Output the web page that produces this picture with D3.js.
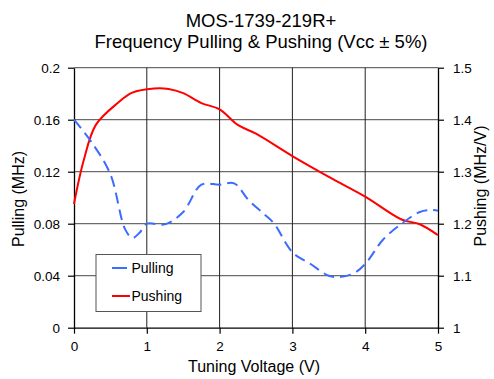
<!DOCTYPE html>
<html><head><meta charset="utf-8">
<script src="https://cdn.jsdelivr.net/npm/d3@7"></script>
<style>
body{margin:0;background:#fff;}
svg{display:block;font-family:"Liberation Sans",Arial,sans-serif;}
</style></head>
<body><svg id="c" width="494" height="379"></svg>
<script>
const titleLines = ["MOS-1739-219R+", "Frequency Pulling & Pushing (Vcc \u00b1 5%)"];
const xLabel = "Tuning Voltage (V)";
const yLeftLabel = "Pulling (MHz)";
const yRightLabel = "Pushing (MHz/V)";
const xTicks = [0,1,2,3,4,5];
const yLeftTicks = [0,0.04,0.08,0.12,0.16,0.2];
const yRightTicks = [1,1.1,1.2,1.3,1.4,1.5];

const pullingV   = [0,0.25,0.5,0.7,0.8,0.9,1.0,1.25,1.5,1.75,2.0,2.2,2.4,2.6,2.75,3.0,3.25,3.5,3.65,3.85,4.0,4.25,4.5,4.75,4.9,5.0];
const pullingVal = [0.160,0.142,0.118,0.076,0.069,0.073,0.080,0.0795,0.089,0.110,0.110,0.111,0.098,0.088,0.080,0.058,0.049,0.040,0.039,0.042,0.049,0.068,0.080,0.089,0.0905,0.090];

const pushingV   = [0,0.13,0.3,0.6,0.8,1.1,1.3,1.5,1.75,2.0,2.25,2.5,3.0,3.5,4.0,4.5,4.75,5.0];
const pushingVal = [1.238,1.32,1.39,1.432,1.452,1.46,1.459,1.451,1.432,1.42,1.39,1.373,1.33,1.29,1.252,1.208,1.199,1.178];

const svg = d3.select("#c");
const L=74, R=438, T=67.7, B=327.7;
const x = d3.scaleLinear().domain([0,5]).range([L,R]);
const yL = d3.scaleLinear().domain([0,0.2]).range([B,T]);
const yR = d3.scaleLinear().domain([1,1.5]).range([B,T]);

// grid
svg.append("g").selectAll("line").data(yLeftTicks.slice(1)).join("line")
  .attr("x1",L).attr("x2",R).attr("y1",d=>yL(d)).attr("y2",d=>yL(d))
  .attr("stroke","#6b6b6b").attr("stroke-width",1.3);
svg.append("g").selectAll("line").data(xTicks.slice(1,-1)).join("line")
  .attr("y1",T).attr("y2",B).attr("x1",d=>x(d)).attr("x2",d=>x(d))
  .attr("stroke","#222").attr("stroke-width",1);

function styleAxis(g){
  g.select(".domain").attr("stroke","#000").attr("stroke-width",1.3);
  g.selectAll(".tick line").attr("stroke","#000").attr("stroke-width",1.2);
  g.selectAll("text").attr("font-size",13.5).attr("fill","#000").attr("font-family","Liberation Sans, Arial, sans-serif");
}
svg.append("g").attr("transform",`translate(0,${B})`)
  .call(d3.axisBottom(x).tickValues(xTicks).tickFormat(d3.format("d")).tickSizeInner(6).tickSizeOuter(0).tickPadding(8))
  .call(styleAxis);
svg.append("g").attr("transform",`translate(${L},0)`)
  .call(d3.axisLeft(yL).tickValues(yLeftTicks).tickFormat(d=>d===0?"0":String(+d.toFixed(2))).tickSizeInner(6).tickSizeOuter(0).tickPadding(8))
  .call(styleAxis);
svg.append("g").attr("transform",`translate(${R},0)`)
  .call(d3.axisRight(yR).tickValues(yRightTicks).tickFormat(d=>String(+d.toFixed(1))).tickSizeInner(6).tickSizeOuter(0).tickPadding(9))
  .call(styleAxis);

// lines
const pull = pullingV.map((v,i)=>[v,pullingVal[i]]);
const push = pushingV.map((v,i)=>[v,pushingVal[i]]);
svg.append("path").datum(push)
  .attr("d",d3.line().x(d=>x(d[0])).y(d=>yR(d[1])).curve(d3.curveCatmullRom))
  .attr("fill","none").attr("stroke","#ff0000").attr("stroke-width",2);
svg.append("path").datum(pull)
  .attr("d",d3.line().x(d=>x(d[0])).y(d=>yL(d[1])).curve(d3.curveCatmullRom))
  .attr("fill","none").attr("stroke","#3b6cff").attr("stroke-width",2).attr("stroke-dasharray","11,6");

// legend
const lg = svg.append("g");
lg.append("rect").attr("x",96).attr("y",254.5).attr("width",105).attr("height",57)
  .attr("fill","#fff").attr("stroke","#555").attr("stroke-width",1);
const legendItems = [{name:"Pulling",color:"#3b6cff",y:268,x2:127},{name:"Pushing",color:"#ff0000",y:296,x2:130}];
legendItems.forEach(it=>{
  lg.append("line").attr("x1",112).attr("x2",it.x2).attr("y1",it.y).attr("y2",it.y)
    .attr("stroke",it.color).attr("stroke-width",2);
  lg.append("text").attr("x",131.5).attr("y",it.y+5).attr("font-size",14).text(it.name);
});

// titles
svg.append("g").selectAll("text").data(titleLines).join("text")
  .attr("x",261).attr("y",(d,i)=>27+i*20.5).attr("text-anchor","middle")
  .attr("font-size",18.5).text(d=>d);
svg.append("text").attr("x",254).attr("y",372).attr("text-anchor","middle").attr("font-size",16).text(xLabel);
svg.append("text").attr("transform","translate(24,199) rotate(-90)").attr("text-anchor","middle").attr("font-size",16).text(yLeftLabel);
svg.append("text").attr("transform","translate(486,186) rotate(-90)").attr("text-anchor","middle").attr("font-size",16).text(yRightLabel);
</script></body></html>
